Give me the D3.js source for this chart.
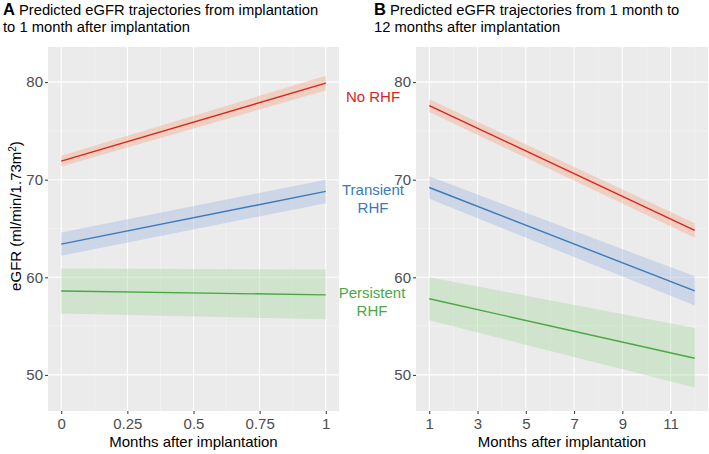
<!DOCTYPE html>
<html>
<head>
<meta charset="utf-8">
<script src="https://cdn.jsdelivr.net/npm/d3@7"></script>
<style>
  body { margin: 0; background: #fff; }
  svg { font-family: "Liberation Sans", Arial, sans-serif; }
</style>
</head>
<body>
<div class="graph"></div>
<script>
// panel A: implantation -> 1 month
var monthsA = [0, 1];
var noRhfA = [71.9, 79.9];
var noRhfALo = [71.35, 79.15];
var noRhfAHi = [72.45, 80.65];
var transA = [63.4, 68.8];
var transALo = [62.2, 67.6];
var transAHi = [64.6, 70.0];
var persA = [58.6, 58.2];
var persALo = [56.3, 55.7];
var persAHi = [60.9, 60.8];

// panel B: 1 month -> 12 months
var monthsB = [1, 12];
var noRhfB = [77.6, 64.8];
var noRhfBLo = [76.95, 64.05];
var noRhfBHi = [78.25, 65.55];
var transB = [69.2, 58.6];
var transBLo = [68.05, 57.1];
var transBHi = [70.35, 60.1];
var persB = [57.8, 51.7];
var persBLo = [55.6, 48.7];
var persBHi = [60.0, 54.8];

var ticksA = [0, 0.25, 0.5, 0.75, 1];
var tickLabelsA = ["0", "0.25", "0.5", "0.75", "1"];
var ticksB = [1, 3, 5, 7, 9, 11];
var yTicks = [50, 60, 70, 80];

var loadChart = function () {
    const WIDTH = 709;
    const HEIGHT = 454;
    const TOP = 47;
    const BOTTOM = 411;
    const FONT = "Liberation Sans, Arial, sans-serif";

    var colors = {red: "#d7261e", blue: "#3a7ab8", green: "#4aa844"};
    var fills = {red: "#f4a582", blue: "#9fb7e0", green: "#a8d8a0"};

    var svg = d3.select(".graph").append("svg")
        .attr("width", WIDTH)
        .attr("height", HEIGHT);

    var yScale = d3.scaleLinear().domain([46.3, 83.6]).range([BOTTOM, TOP]);

    var toPoints = function (s) {
        return s.x.map(function (x, i) {
            return {x: x, y: s.y[i], lo: s.lo[i], hi: s.hi[i]};
        });
    };

    var drawPanel = function (left, right, xDomain, xTicks, xLabels, xMinor, series) {
        var xScale = d3.scaleLinear().domain(xDomain).range([left, right]);
        var g = svg.append("g");

        g.append("rect")
            .attr("x", left).attr("y", TOP)
            .attr("width", right - left).attr("height", BOTTOM - TOP)
            .style("fill", "#ebebeb");

        // minor grid
        g.selectAll(".xminor").data(xMinor).enter().append("line")
            .attr("x1", d => xScale(d)).attr("x2", d => xScale(d))
            .attr("y1", TOP).attr("y2", BOTTOM)
            .style("stroke", "#f5f5f5").style("stroke-width", 0.6);
        g.selectAll(".yminor").data([55, 65, 75]).enter().append("line")
            .attr("x1", left).attr("x2", right)
            .attr("y1", d => yScale(d)).attr("y2", d => yScale(d))
            .style("stroke", "#f5f5f5").style("stroke-width", 0.6);
        // major grid
        g.selectAll(".xmajor").data(xTicks).enter().append("line")
            .attr("x1", d => xScale(d)).attr("x2", d => xScale(d))
            .attr("y1", TOP).attr("y2", BOTTOM)
            .style("stroke", "#fff").style("stroke-width", 1.1);
        g.selectAll(".ymajor").data(yTicks).enter().append("line")
            .attr("x1", left).attr("x2", right)
            .attr("y1", d => yScale(d)).attr("y2", d => yScale(d))
            .style("stroke", "#fff").style("stroke-width", 1.1);

        series.forEach(function (s) {
            var pts = toPoints(s);
            var area = d3.area()
                .x(d => xScale(d.x))
                .y0(d => yScale(d.lo))
                .y1(d => yScale(d.hi));
            g.append("path").datum(pts)
                .attr("d", area)
                .style("fill", fills[s.col])
                .style("fill-opacity", 0.4);
            var line = d3.line().x(d => xScale(d.x)).y(d => yScale(d.y));
            g.append("path").datum(pts)
                .attr("d", line)
                .style("fill", "none")
                .style("stroke", colors[s.col])
                .style("stroke-width", 1.4);
        });

        var xAxis = d3.axisBottom(xScale).tickValues(xTicks)
            .tickFormat((d, i) => xLabels[i]).tickSize(3).tickPadding(4);
        var xg = g.append("g")
            .attr("transform", "translate(0," + BOTTOM + ")")
            .call(xAxis);
        xg.select(".domain").remove();
        xg.selectAll("line").style("stroke", "#333");
        xg.selectAll("text").style("font-size", "15px").style("fill", "#4d4d4d")
            .style("font-family", FONT);

        var yAxis = d3.axisLeft(yScale).tickValues(yTicks).tickSize(3).tickPadding(2);
        var yg = g.append("g")
            .attr("transform", "translate(" + left + ",0)")
            .call(yAxis);
        yg.select(".domain").remove();
        yg.selectAll("line").style("stroke", "#333");
        yg.selectAll("text").style("font-size", "15px").style("fill", "#4d4d4d")
            .style("font-family", FONT);

        g.append("text")
            .attr("x", (left + right) / 2).attr("y", 447)
            .attr("text-anchor", "middle")
            .style("font-size", "15px")
            .text("Months after implantation");
    };

    drawPanel(48, 339, [-0.05, 1.05], ticksA, tickLabelsA, [0.125, 0.375, 0.625, 0.875], [
        {x: monthsA, y: noRhfA, lo: noRhfALo, hi: noRhfAHi, col: "red"},
        {x: monthsA, y: transA, lo: transALo, hi: transAHi, col: "blue"},
        {x: monthsA, y: persA, lo: persALo, hi: persAHi, col: "green"}
    ]);

    drawPanel(416, 708, [0.45, 12.55], ticksB, ticksB.map(String), [2, 4, 6, 8, 10, 12], [
        {x: monthsB, y: noRhfB, lo: noRhfBLo, hi: noRhfBHi, col: "red"},
        {x: monthsB, y: transB, lo: transBLo, hi: transBHi, col: "blue"},
        {x: monthsB, y: persB, lo: persBLo, hi: persBHi, col: "green"}
    ]);

    // y axis title
    svg.append("text")
        .attr("transform", "translate(21,216) rotate(-90)")
        .attr("text-anchor", "middle")
        .style("font-size", "15px")
        .html("eGFR (ml/min/1.73m<tspan baseline-shift='super' font-size='10px'>2</tspan>)");

    // titles
    var titleA = svg.append("text").attr("x", 3).attr("y", 15).style("font-size", "14.75px");
    titleA.append("tspan").style("font-weight", "bold").style("font-size", "16.5px").text("A");
    titleA.append("tspan").attr("dx", 4).text("Predicted eGFR trajectories from implantation");
    svg.append("text").attr("x", 3).attr("y", 32).style("font-size", "14.75px")
        .text("to 1 month after implantation");

    var titleB = svg.append("text").attr("x", 374).attr("y", 15).style("font-size", "14.75px");
    titleB.append("tspan").style("font-weight", "bold").style("font-size", "16.5px").text("B");
    titleB.append("tspan").attr("dx", 4).text("Predicted eGFR trajectories from 1 month to");
    svg.append("text").attr("x", 374).attr("y", 32).style("font-size", "14.75px")
        .text("12 months after implantation");

    // group labels
    var labels = [
        {lines: ["No RHF"], x: 373, y: 102, col: "red"},
        {lines: ["Transient", "RHF"], x: 373, y: 195, col: "blue"},
        {lines: ["Persistent", "RHF"], x: 372, y: 298, col: "green"}
    ];
    labels.forEach(function (l) {
        l.lines.forEach(function (t, i) {
            svg.append("text")
                .attr("x", l.x).attr("y", l.y + i * 18)
                .attr("text-anchor", "middle")
                .style("font-size", "15px")
                .style("fill", colors[l.col])
                .text(t);
        });
    });
};

window.onload = loadChart();
</script>
</body>
</html>
